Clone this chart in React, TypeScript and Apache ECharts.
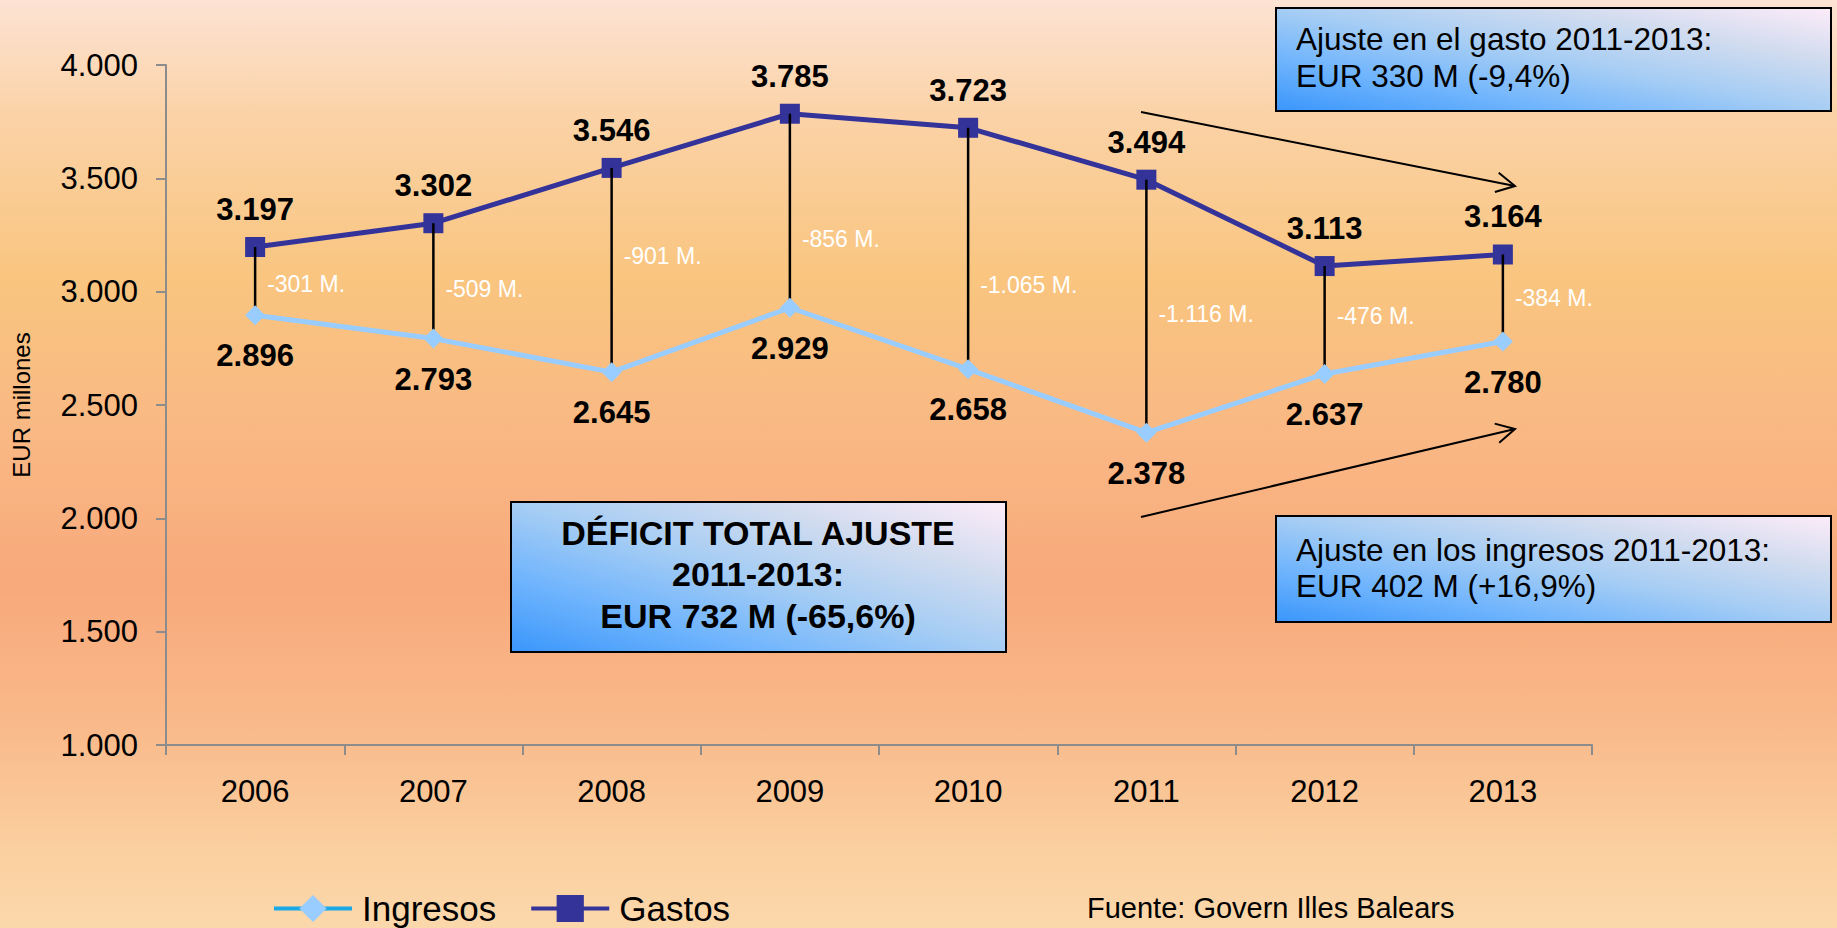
import React, { useEffect, useRef } from 'react';
import * as echarts from 'echarts';

const years = ['2006', '2007', '2008', '2009', '2010', '2011', '2012', '2013'];
const ingresos = [2896, 2793, 2645, 2929, 2658, 2378, 2637, 2780];
const gastos = [3197, 3302, 3546, 3785, 3723, 3494, 3113, 3164];
// value (EUR millones) at which each gap label sits
const gapLabelAt = [3032, 3011, 3156, 3234, 3028, 2903, 2891, 2971];
const yMin = 1000;
const yMax = 4000;
const yStep = 500;

const FONT = '"Liberation Sans", Arial, Helvetica, sans-serif';

const fmt = (v: number): string => {
  const neg = v < 0;
  const s = String(Math.abs(Math.round(v)));
  const out = s.replace(/\B(?=(\d{3})+(?!\d))/g, '.');
  return (neg ? '-' : '') + out;
};

const boxGrad = () =>
  new echarts.graphic.LinearGradient(0, 1, 1, 0, [
    { offset: 0, color: '#3a96fb' },
    { offset: 0.25, color: '#6fb4fd' },
    { offset: 0.5, color: '#a6cdf4' },
    { offset: 0.75, color: '#d2dcef' },
    { offset: 1, color: '#fdecf9' },
  ]);

const arrow = (x1: number, y1: number, x2: number, y2: number) => {
  const ang = Math.atan2(y2 - y1, x2 - x1);
  const len = 21;
  const spread = (28 * Math.PI) / 180;
  const a = [x2 - len * Math.cos(ang - spread), y2 - len * Math.sin(ang - spread)];
  const b = [x2 - len * Math.cos(ang + spread), y2 - len * Math.sin(ang + spread)];
  return [
    { type: 'line', shape: { x1, y1, x2, y2 }, style: { stroke: '#000', lineWidth: 2 }, z: 10 },
    { type: 'polyline', shape: { points: [a, [x2, y2], b] }, style: { stroke: '#000', lineWidth: 2, fill: null }, z: 10 },
  ];
};

export default function App() {
  const ref = useRef<HTMLDivElement>(null);

  useEffect(() => {
    if (!ref.current) return;
    const chart = echarts.init(ref.current, null, { renderer: 'svg' });

    const option: any = {
      animation: false,
      backgroundColor: 'transparent',
      textStyle: { fontFamily: FONT },
      grid: { left: 166, right: 245, top: 65, bottom: 183, containLabel: false },
      legend: {
        left: 267,
        top: 886,
        itemWidth: 78,
        itemHeight: 34,
        itemGap: 33,
        selectedMode: false,
        textStyle: { fontSize: 35, color: '#000', fontFamily: FONT, padding: [0, 0, 0, 5] },
        data: [
          { name: 'Ingresos', lineStyle: { color: '#1aa8e6', width: 4 } },
          { name: 'Gastos', lineStyle: { color: '#333399', width: 4 } },
        ],
      },
      xAxis: {
        type: 'category',
        data: years,
        boundaryGap: true,
        axisLine: { show: true, lineStyle: { color: '#8c8c8c', width: 2 } },
        axisTick: { show: true, length: 10, lineStyle: { color: '#8c8c8c', width: 2 } },
        axisLabel: { fontSize: 31, color: '#000', margin: 31, fontFamily: FONT },
        splitLine: { show: false },
      },
      yAxis: {
        type: 'value',
        min: yMin,
        max: yMax,
        interval: yStep,
        name: 'EUR millones',
        nameLocation: 'middle',
        nameGap: 133,
        nameTextStyle: { fontSize: 24, color: '#000', fontFamily: FONT },
        axisLine: { show: true, lineStyle: { color: '#8c8c8c', width: 2 } },
        axisTick: { show: true, length: 10, lineStyle: { color: '#8c8c8c', width: 2 } },
        axisLabel: { fontSize: 31, color: '#000', margin: 28, fontFamily: FONT, formatter: (v: number) => fmt(v) },
        splitLine: { show: false },
      },
      series: [
        {
          name: 'Gastos',
          type: 'line',
          data: gastos,
          symbol: 'rect',
          symbolSize: 20,
          itemStyle: { color: '#333399' },
          lineStyle: { color: '#333399', width: 5 },
          label: {
            show: true,
            position: 'top',
            distance: 12,
            fontSize: 31,
            fontWeight: 'bold',
            color: '#000',
            fontFamily: FONT,
            formatter: (p: any) => fmt(p.value),
          },
          z: 2,
        },
        {
          name: 'gap',
          type: 'custom',
          data: years.map((_, i) => [i, gastos[i], ingresos[i]]),
          encode: { x: 0, y: [1, 2] },
          silent: true,
          renderItem: (params: any, api: any) => {
            const i = api.value(0);
            const p1 = api.coord([i, api.value(1)]);
            const p2 = api.coord([i, api.value(2)]);
            return {
              type: 'line',
              shape: { x1: p1[0], y1: p1[1], x2: p2[0], y2: p2[1] },
              style: { stroke: '#000', lineWidth: 2.5 },
            };
          },
          z: 3,
        },
        {
          name: 'Ingresos',
          type: 'line',
          data: ingresos,
          symbol: 'diamond',
          symbolSize: 20,
          itemStyle: { color: '#99ccff' },
          lineStyle: { color: '#99ccff', width: 5 },
          label: {
            show: true,
            position: 'bottom',
            distance: 15,
            fontSize: 31,
            fontWeight: 'bold',
            color: '#000',
            fontFamily: FONT,
            formatter: (p: any) => fmt(p.value),
          },
          z: 4,
        },
        {
          name: 'gapLabels',
          type: 'custom',
          data: years.map((_, i) => [i, gapLabelAt[i], ingresos[i] - gastos[i]]),
          encode: { x: 0, y: 1 },
          silent: true,
          renderItem: (params: any, api: any) => {
            const i = api.value(0);
            const p = api.coord([i, api.value(1)]);
            return {
              type: 'text',
              x: p[0] + 12,
              y: p[1],
              style: {
                text: fmt(api.value(2)) + ' M.',
                fill: '#ffffff',
                fontSize: 23,
                fontFamily: FONT,
                align: 'left',
                verticalAlign: 'middle',
              },
            };
          },
          z: 5,
        },
      ],
      graphic: [
        // top-right box
        { type: 'rect', shape: { x: 1276, y: 8, width: 555, height: 103 }, style: { fill: boxGrad(), stroke: '#000', lineWidth: 2 }, z: 10 },
        { type: 'text', x: 1296, y: 39, style: { text: 'Ajuste en el gasto 2011-2013:', fontSize: 31.5, fontFamily: FONT, fill: '#000', verticalAlign: 'middle' }, z: 11 },
        { type: 'text', x: 1296, y: 76, style: { text: 'EUR 330 M (-9,4%)', fontSize: 31.5, fontFamily: FONT, fill: '#000', verticalAlign: 'middle' }, z: 11 },
        // bottom-right box
        { type: 'rect', shape: { x: 1276, y: 516, width: 555, height: 106 }, style: { fill: boxGrad(), stroke: '#000', lineWidth: 2 }, z: 10 },
        { type: 'text', x: 1296, y: 550, style: { text: 'Ajuste en los ingresos 2011-2013:', fontSize: 31.5, fontFamily: FONT, fill: '#000', verticalAlign: 'middle' }, z: 11 },
        { type: 'text', x: 1296, y: 586, style: { text: 'EUR 402 M (+16,9%)', fontSize: 31.5, fontFamily: FONT, fill: '#000', verticalAlign: 'middle' }, z: 11 },
        // center box
        { type: 'rect', shape: { x: 511, y: 502, width: 495, height: 150 }, style: { fill: boxGrad(), stroke: '#000', lineWidth: 2 }, z: 10 },
        { type: 'text', x: 758, y: 533, style: { text: 'DÉFICIT TOTAL AJUSTE', fontSize: 34, fontWeight: 'bold', fontFamily: FONT, fill: '#000', align: 'center', verticalAlign: 'middle' }, z: 11 },
        { type: 'text', x: 758, y: 574, style: { text: '2011-2013:', fontSize: 34, fontWeight: 'bold', fontFamily: FONT, fill: '#000', align: 'center', verticalAlign: 'middle' }, z: 11 },
        { type: 'text', x: 758, y: 616, style: { text: 'EUR 732 M (-65,6%)', fontSize: 34, fontWeight: 'bold', fontFamily: FONT, fill: '#000', align: 'center', verticalAlign: 'middle' }, z: 11 },
        // arrows
        ...arrow(1141, 112, 1515, 186),
        ...arrow(1141, 517, 1515, 429),
        // source
        { type: 'text', x: 1087, y: 908, style: { text: 'Fuente: Govern Illes Balears', fontSize: 29, fontFamily: FONT, fill: '#000', verticalAlign: 'middle' }, z: 11 },
      ],
    };

    chart.setOption(option);
    return () => chart.dispose();
  }, []);

  return (
    <div
      style={{
        position: 'fixed',
        left: 0,
        top: 0,
        width: 1837,
        height: 928,
        background:
          'linear-gradient(to bottom, #fde3d4 0%, #fbd3a8 12%, #f9c57f 30%, #f9b784 48%, #f8a97b 63%, #f9b98a 78%, #fbd0a0 92%, #fbd8ab 100%)',
      }}
    >
      <div ref={ref} style={{ width: 1837, height: 928 }} />
    </div>
  );
}
